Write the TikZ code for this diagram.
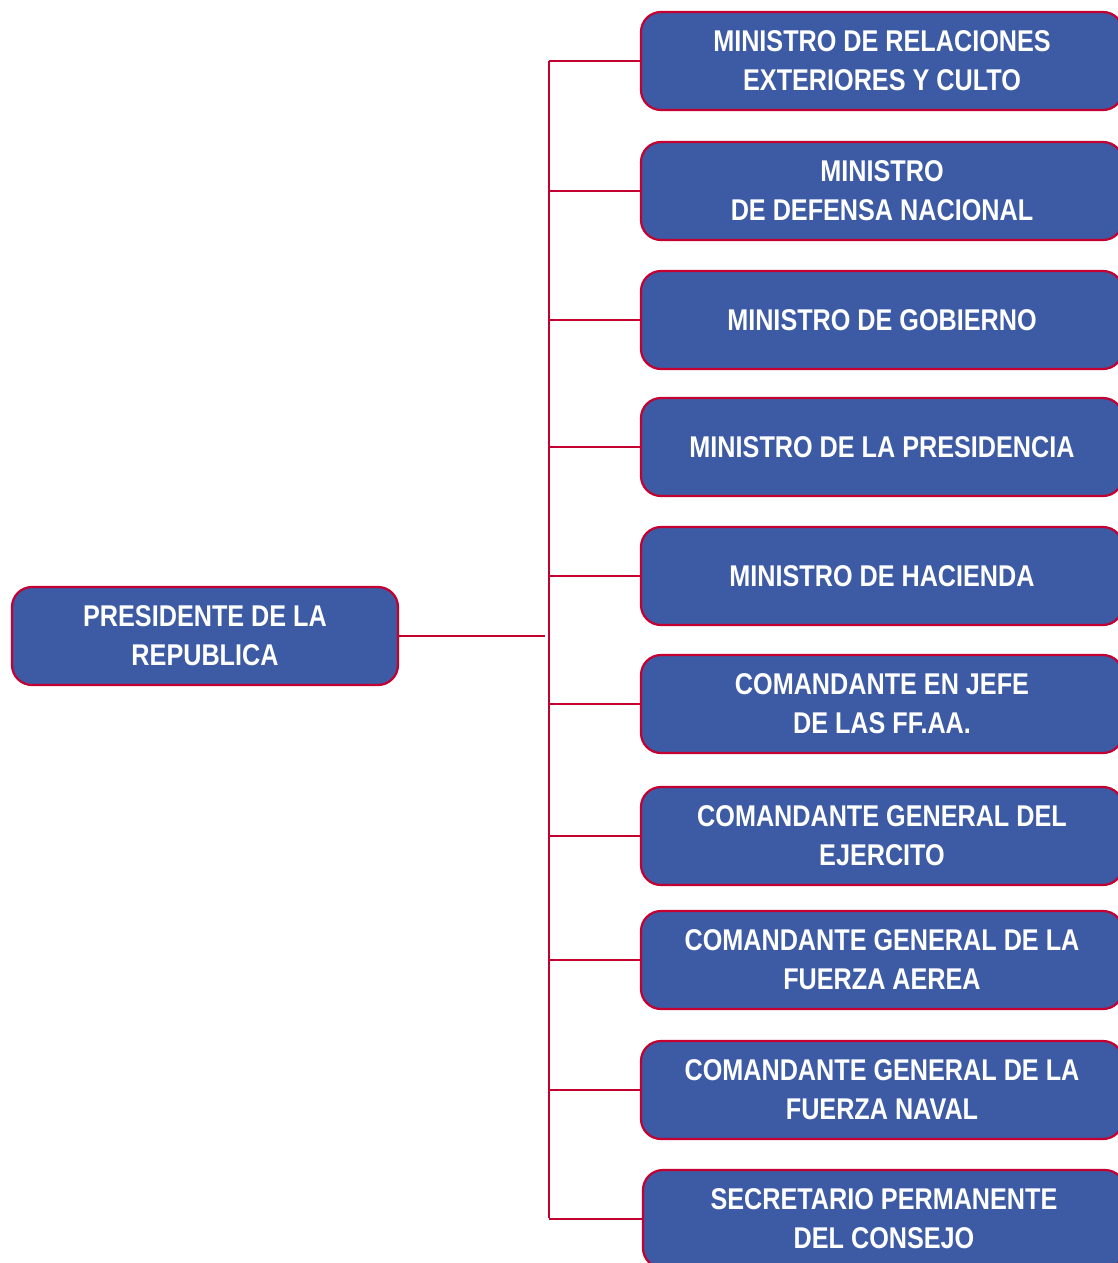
\documentclass[tikz,border=0pt]{standalone}
\usepackage{fontspec}
\setmainfont{Liberation Sans}[FakeStretch=0.84]
\definecolor{boxblue}{RGB}{61,90,165}
\definecolor{linered}{RGB}{196,0,48}
\begin{document}
\begin{tikzpicture}[x=1pt,y=-1pt,
  orgbox/.style={draw=linered, line width=2.2pt, fill=boxblue, rounded corners=20pt,
    minimum width=482pt, minimum height=98pt, text=white, align=center,
    font=\fontsize{30}{39}\selectfont\bfseries, inner sep=0pt},
  link/.style={draw=linered, line width=2pt}]
\useasboundingbox (0,0) rectangle (1118,1263);
\clip (0,0) rectangle (1118,1263);
\node[orgbox, minimum width=386pt] (pres) at (205,636) {PRESIDENTE DE LA\\REPUBLICA};
\node[orgbox] (b1) at (882,61) {MINISTRO DE RELACIONES\\EXTERIORES Y CULTO};
\node[orgbox] (b2) at (882,191) {MINISTRO\\DE DEFENSA NACIONAL};
\node[orgbox] (b3) at (882,320) {MINISTRO DE GOBIERNO};
\node[orgbox] (b4) at (882,447) {MINISTRO DE LA PRESIDENCIA};
\node[orgbox] (b5) at (882,576) {MINISTRO DE HACIENDA};
\node[orgbox] (b6) at (882,704) {COMANDANTE EN JEFE\\DE LAS FF.AA.};
\node[orgbox] (b7) at (882,836) {COMANDANTE GENERAL DEL\\EJERCITO};
\node[orgbox] (b8) at (882,960) {COMANDANTE GENERAL DE LA\\FUERZA AEREA};
\node[orgbox] (b9) at (882,1090) {COMANDANTE GENERAL DE LA\\FUERZA NAVAL};
\node[orgbox] (b10) at (884,1219) {SECRETARIO PERMANENTE\\DEL CONSEJO};
\coordinate (top) at (549,61);
\coordinate (bot) at (549,1218);
\coordinate (pj) at (545,636);
\draw[link] (top) -- (bot);
\draw[link] (pres.east) -- (pj);
\foreach \i in {1,...,10} {
  \draw[link] (b\i.west) -- (549,0 |- b\i.west);
}
\end{tikzpicture}
\end{document}
